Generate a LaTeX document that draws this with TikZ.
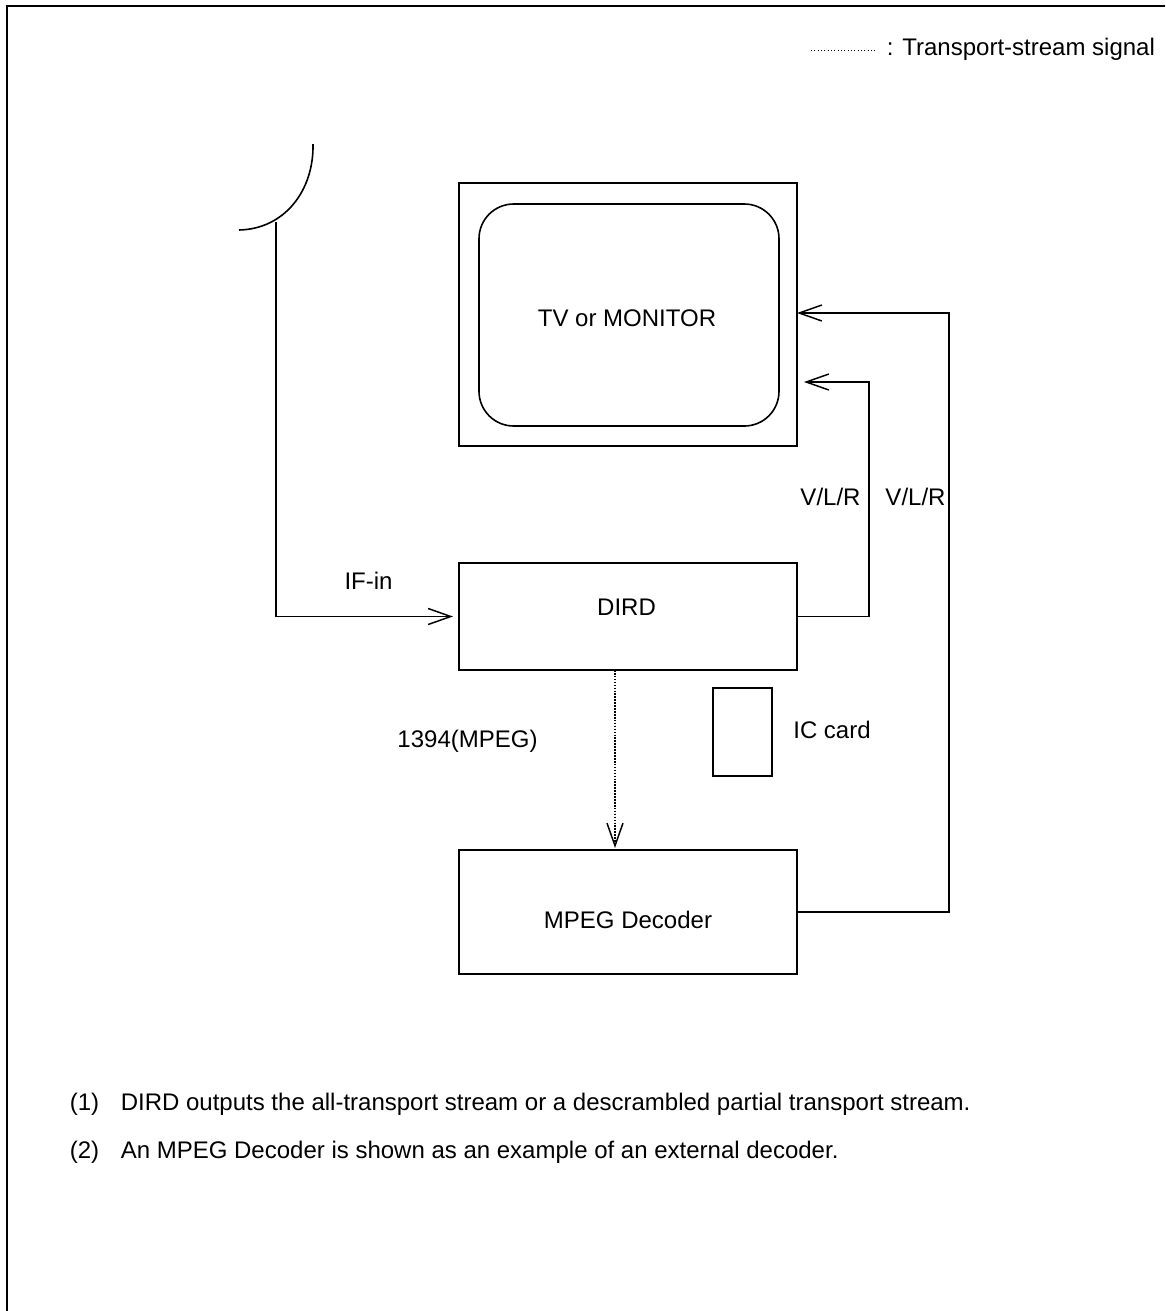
\documentclass[tikz,border=0pt]{standalone}
\usepackage{fontspec}
\setmainfont{Liberation Sans}
\usetikzlibrary{arrows.meta}
\begin{document}
\begin{tikzpicture}[>={Straight Barb[length=17pt,width=12pt,line width=1.1pt]}, x=.75pt, y=-.75pt, line width=1.2pt,
  box/.style={draw, minimum width=253.5pt, inner sep=0pt},
  lab/.style={font=\fontsize{18}{22}\selectfont, inner sep=0pt, anchor=base}]
\useasboundingbox (0,0) rectangle (1165,1311);
\draw[line width=1.7pt] (7,1311)--(7,6)--(1165,6);

\node[box, minimum height=197pt] (TVbox) at (628,314.5){};
\node[draw, rounded corners=26pt, minimum width=225pt, minimum height=166.5pt, inner sep=0pt] (TV) at (629,315){};
\node[lab] (TVlab) at (627,326){TV or MONITOR};
\node[box, minimum height=80pt] (DIRD) at (628,616.5){};
\node[lab] (DIRDlab) at (626.5,615){DIRD};
\node[box, minimum height=93pt] (MPEG) at (628,912){};
\node[lab] (MPEGlab) at (628,928){MPEG Decoder};
\node[draw, minimum width=44pt, minimum height=66pt, inner sep=0pt] (IC) at (742.5,732){};

\coordinate (dish) at (276,222);
\coordinate (dirdIn) at (453,616.5);
\coordinate (tvA) at (797,313);
\coordinate (tvB) at (804,382);
\coordinate (cornerA) at (949,313);
\coordinate (cornerB) at (869,382);
\coordinate (portA) at (615,670);
\coordinate (portB) at (615,848);

\draw (239,230) .. controls (285,229) and (314,190) .. (313,144);
\draw[->] (dish)|-(dirdIn);
\draw[->] (DIRD.east)-|(cornerB)--(tvB);
\draw[->] (MPEG.east)-|(cornerA)--(tvA);
\draw[->, densely dotted] (portA)--(portB);

\node[lab] (IFin) at (368.5,589){IF-in};
\node[lab] (VA) at (830.5,505){V/L/R};
\node[lab] (VB) at (915.5,505){V/L/R};
\node[lab] (ICcard) at (832,738){IC card};
\node[lab] (port) at (467.5,747){1394(MPEG)};

\coordinate (keyA) at (811,50);
\coordinate (keyB) at (876,50);
\draw[dotted, line width=.5pt] (keyA)--(keyB);
\node[lab, anchor=base west] (key) at (886,55){: Transport-stream signal};

\node[lab, anchor=base west] (noteA) at (69,1110){(1)};
\node[lab, anchor=base west] (textA) at (120,1110){DIRD outputs the all-transport stream or a descrambled partial transport stream.};
\node[lab, anchor=base west] (noteB) at (69,1158){(2)};
\node[lab, anchor=base west] (textB) at (120,1158){An MPEG Decoder is shown as an example of an external decoder.};
\end{tikzpicture}
\end{document}
